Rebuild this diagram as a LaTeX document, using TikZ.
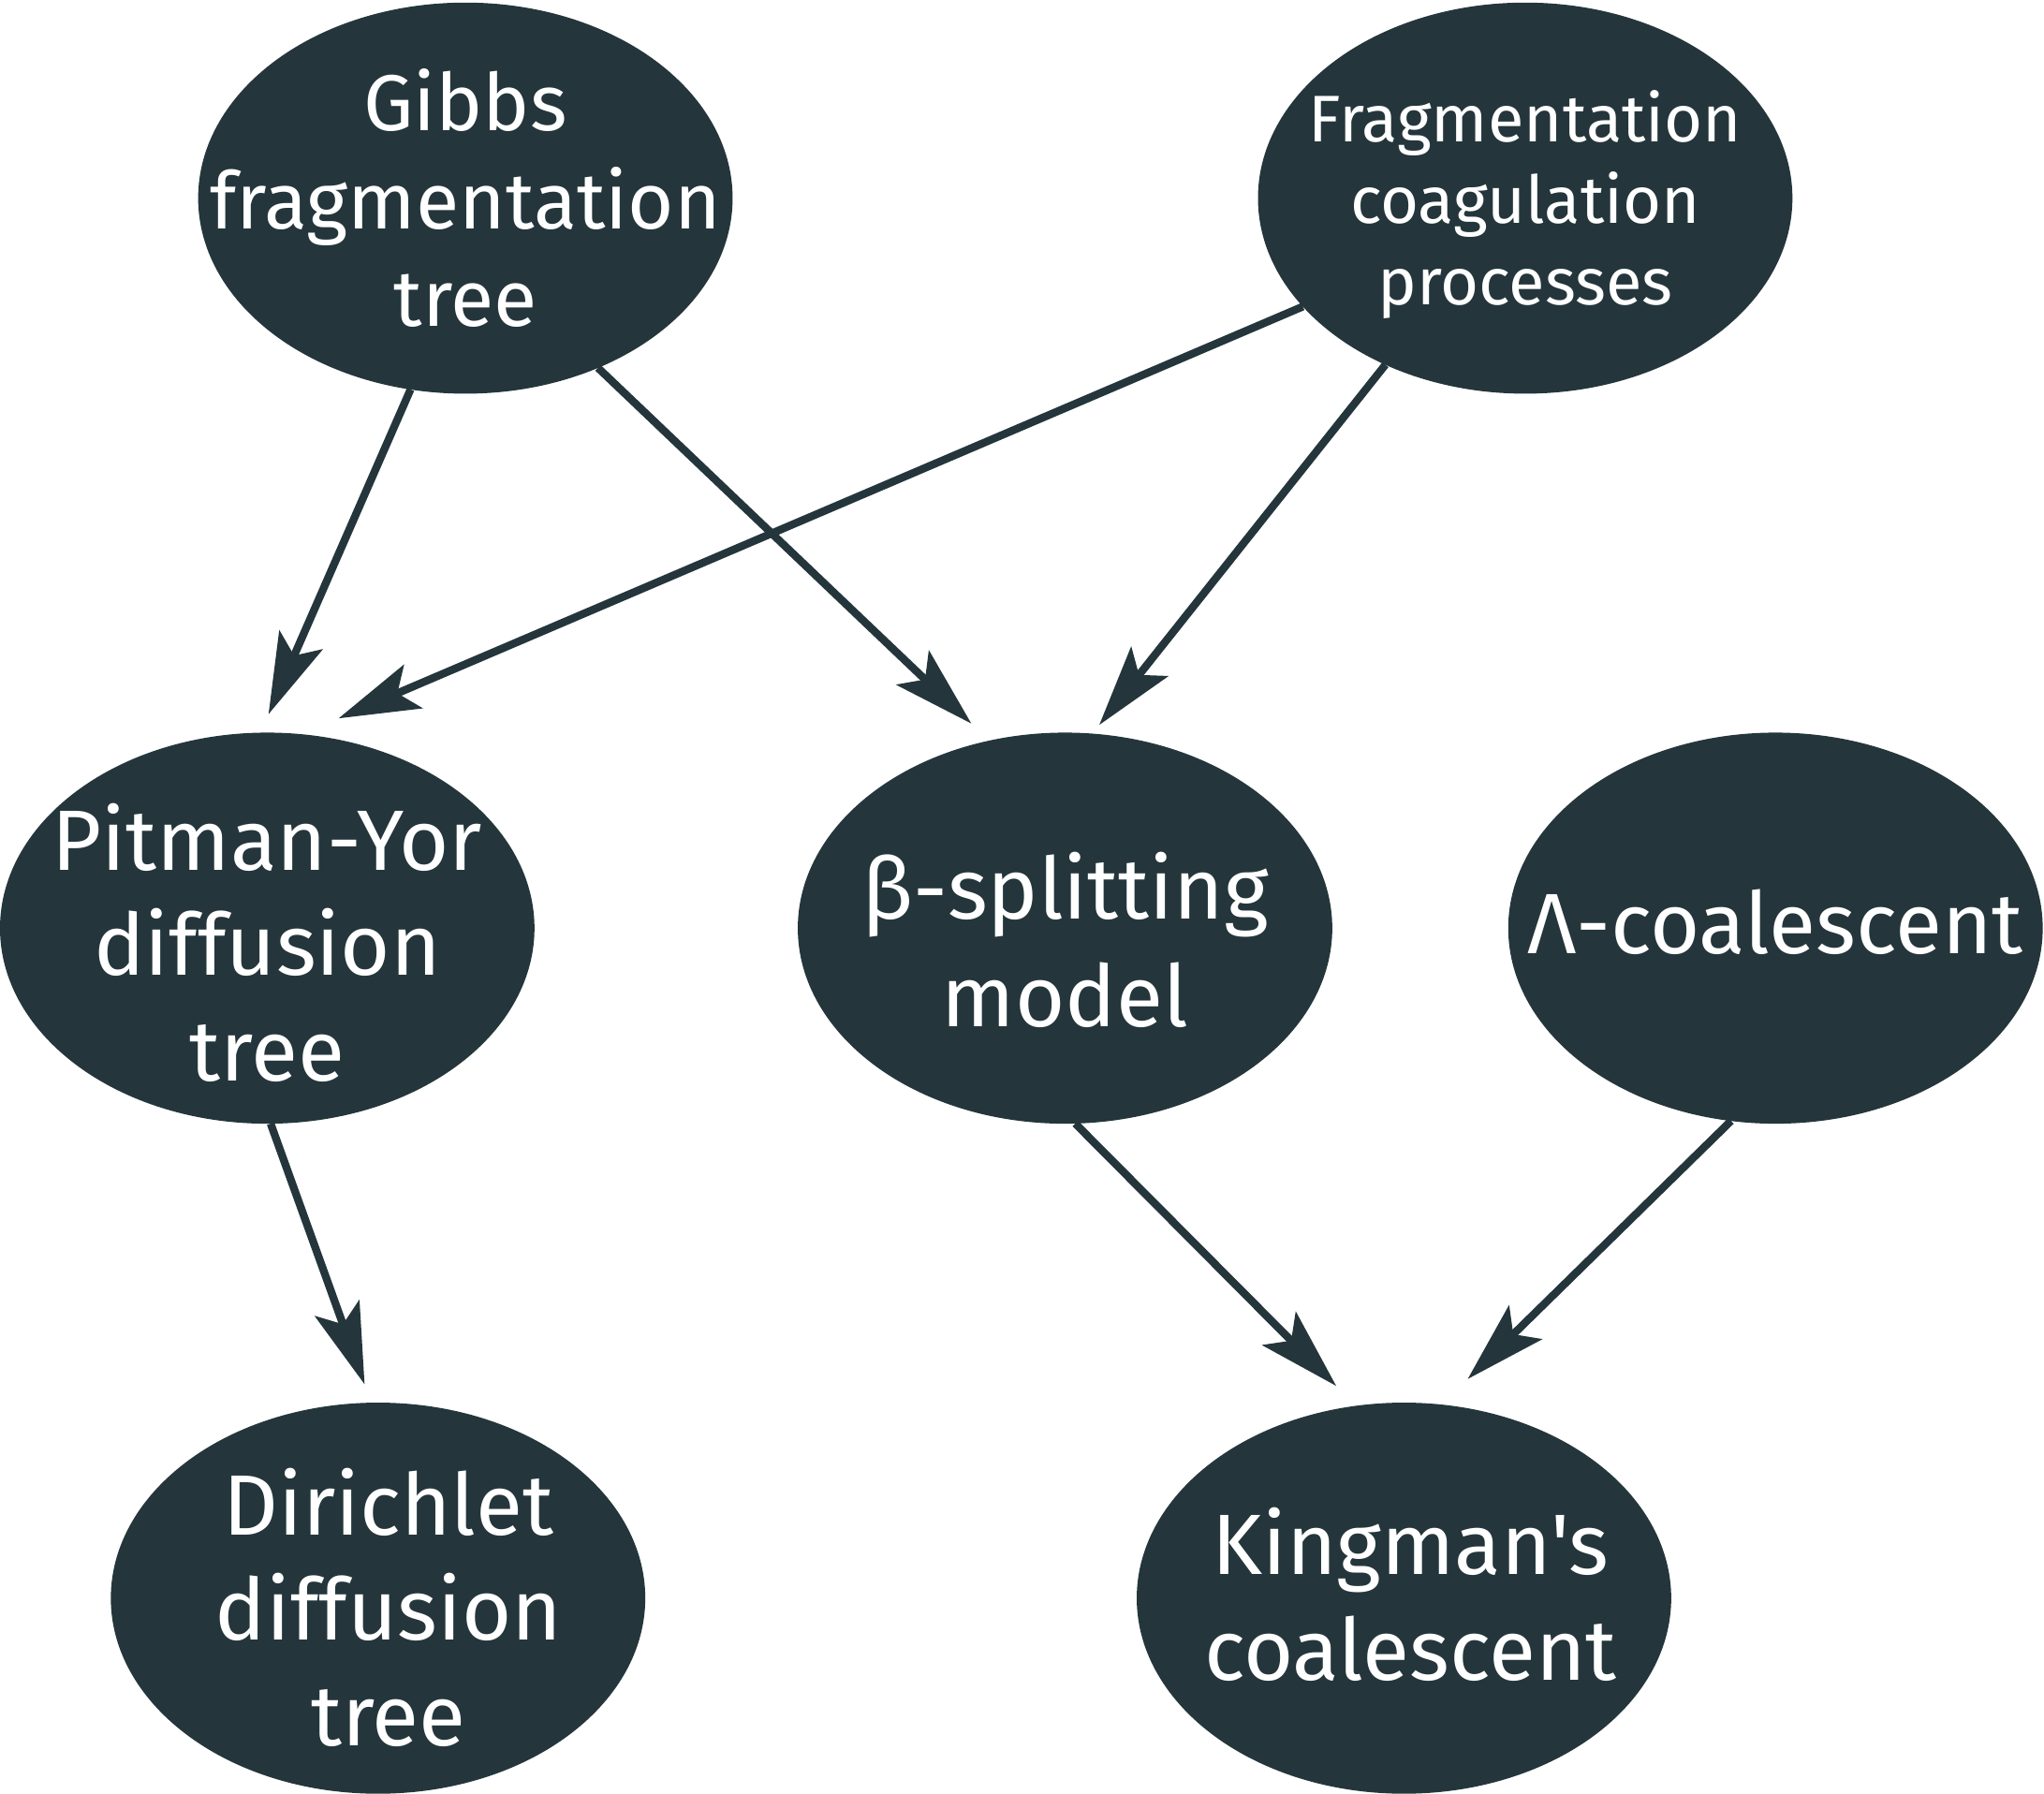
\documentclass[tikz,border=0pt]{standalone}
\usepackage{fontspec}
\setmainfont{Fira Sans}[Ligatures=TeXOff]
\usetikzlibrary{shapes.geometric,arrows.meta}
\definecolor{slate}{RGB}{36,54,59}

\begin{document}
\begin{tikzpicture}[model/.style={ellipse, fill=slate, minimum width=4.1cm,
	minimum height=3cm, inner sep=0pt, outer sep=0pt},
	txt/.style={text=white, align=center, inner sep=0pt,
	font=\fontsize{18.7}{23}\selectfont},
	link/.style={->, draw=slate, line width=1.7pt},
	>={Stealth[length=6.2mm, width=3.6mm, inset=1.3mm]}]

\useasboundingbox (0,0) rectangle (15.68,13.76);

\node[model] at (3.57,12.24) (gibbs) {};
\node[model] at (11.70,12.24) (frag) {};
\node[model] at (2.05,6.64) (pitman) {};
\node[model] at (8.17,6.64) (beta) {};
\node[model] at (13.62,6.64) (lambda) {};
\node[model] at (2.90,1.50) (dirichlet) {};
\node[model] at (10.77,1.50) (kingman) {};

\node[txt, font=\fontsize{17.3}{21.3}\selectfont] at (gibbs) (gibbs-t) {Gibbs\\fragmentation\\tree};
\node[txt, font=\fontsize{14.4}{17.7}\selectfont, yshift=-0.05cm] at (frag) (frag-t) {Fragmentation\\coagulation\\processes};
\node[txt, yshift=-0.11cm] at (pitman) (pitman-t) {Pitman-Yor\\diffusion\\tree};
\node[txt, font=\fontsize{18.7}{23.5}\selectfont, yshift=-0.09cm] at (beta) (beta-t) {β-splitting\\model};
\node[txt, yshift=0.05cm] at (lambda) (lambda-t) {Λ-coalescent};
\node[txt, xshift=0.08cm, yshift=-0.07cm] at (dirichlet) (dirichlet-t) {Dirichlet\\diffusion\\tree};
\node[txt, xshift=0.05cm, yshift=0.03cm] at (kingman) (kingman-t) {Kingman's\\coalescent};

\draw[link, shorten >=1.55mm] (gibbs.254) -- (pitman.92);
\draw[link, shorten >=1.9mm] (gibbs.308) -- (beta.112);
\draw[link, shorten >=3.1mm] (frag.206.6) -- (pitman.80.7);
\draw[link, shorten >=0.85mm] (frag.230.3) -- (beta.82);
\draw[link, shorten >=1.5mm] (pitman.271) -- (dirichlet.92.7);
\draw[link, shorten >=2.15mm] (beta.273.5) -- (kingman.104);
\draw[link, shorten >=2.8mm] (lambda.257.6) -- (kingman.79);
\end{tikzpicture}
\end{document}
